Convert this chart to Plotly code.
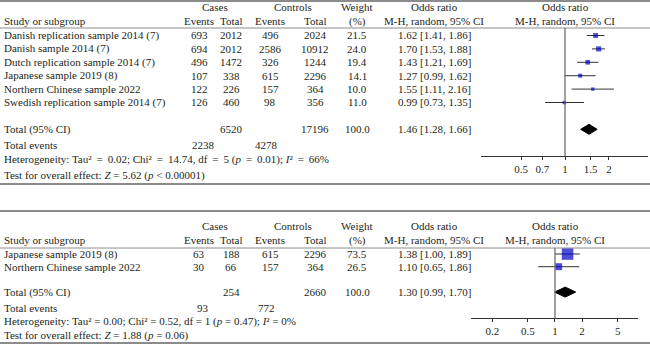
import plotly.graph_objects as go

W, H = 650, 344
FONT = "Liberation Serif"
TXT = "#231f20"

# ---------------- data: panel 1 ----------------
studies1 = ["Danish replication sample 2014 (7)", "Danish sample 2014 (7)",
            "Dutch replication sample 2014 (7)", "Japanese sample 2019 (8)",
            "Northern Chinese sample 2022", "Swedish replication sample 2014 (7)"]
case_events1 = [693, 694, 496, 107, 122, 126]
case_total1 = [2012, 2012, 1472, 338, 226, 460]
ctrl_events1 = [496, 2586, 326, 615, 157, 98]
ctrl_total1 = [2024, 10912, 1244, 2296, 364, 356]
weight1 = [21.5, 24.0, 19.4, 14.1, 10.0, 11.0]
or1 = [1.62, 1.70, 1.43, 1.27, 1.55, 0.99]
lo1 = [1.41, 1.53, 1.21, 0.99, 1.11, 0.73]
hi1 = [1.86, 1.88, 1.69, 1.62, 2.16, 1.35]
tot_case1, tot_ctrl1 = 6520, 17196
ev_case1, ev_ctrl1 = 2238, 4278
pooled1 = (1.46, 1.28, 1.66)
het1 = ("Heterogeneity: Tau² \u2009=\u2009 0.02; Chi² \u2009=\u2009 14.74, df \u2009=\u2009 5 "
        "(<i>p</i> \u2009=\u2009 0.01); <i>I</i>² \u2009=\u2009 66%")
eff1 = "Test for overall effect: <i>Z</i> = 5.62 (<i>p</i> < 0.00001)"
ticks1 = [0.5, 0.7, 1, 1.5, 2]

# ---------------- data: panel 2 ----------------
studies2 = ["Japanese sample 2019 (8)", "Northern Chinese sample 2022"]
case_events2 = [63, 30]
case_total2 = [188, 66]
ctrl_events2 = [615, 157]
ctrl_total2 = [2296, 364]
weight2 = [73.5, 26.5]
or2 = [1.38, 1.10]
lo2 = [1.00, 0.65]
hi2 = [1.89, 1.86]
tot_case2, tot_ctrl2 = 254, 2660
ev_case2, ev_ctrl2 = 93, 772
pooled2 = (1.30, 0.99, 1.70)
het2 = "Heterogeneity: Tau² = 0.00; Chi² = 0.52, df = 1 (<i>p</i> = 0.47); <i>I</i>² = 0%"
eff2 = "Test for overall effect: <i>Z</i> = 1.88 (<i>p</i> = 0.06)"
ticks2 = [0.2, 0.5, 1, 2, 5]

fig = go.Figure()
annotations = []
shapes = []


def px(x):
    return x / W


def py(y):
    return 1 - y / H


def text(x, y, s, anchor="center", size=11):
    annotations.append(dict(x=px(x), y=py(y), xref="paper", yref="paper", text=s,
                            showarrow=False, xanchor=anchor, yanchor="middle",
                            font=dict(family=FONT, size=size, color=TXT)))


def hline(y, width, color):
    shapes.append(dict(type="line", xref="paper", yref="paper", x0=0, x1=1,
                       y0=py(y), y1=py(y), line=dict(color=color, width=width)))


COLS = dict(ce=199, ct=231, ne=270, nt=315, w=357, orr=434)


def panel(p, top, hdr1, hdr2, hdr_line, row0, dy, total_row, ev_y, het_y, eff_y,
          bottom, axis_y, xdom, xrange_log, fx, studies, ce, ct, ne, nt, wt, orv, lo, hi,
          totc, totn, evc, evn, pooled, het, eff, ticks, sizek):
    xa = "x" if p == 1 else "x2"
    ya = "y" if p == 1 else "y2"
    hline(top, 2, "#8c8c8c")
    hline(hdr_line, 1, "#8c8c8c")
    hline(bottom, 2, "#8c8c8c")
    # header
    text(215, hdr1, "Cases")
    text(293, hdr1, "Controls")
    text(COLS["w"], hdr1, "Weight")
    text(COLS["orr"], hdr1, "Odds ratio")
    text(fx, hdr1, "Odds ratio")
    text(2, hdr2, "Study or subgroup", "left")
    text(COLS["ce"], hdr2, "Events")
    text(COLS["ct"], hdr2, "Total")
    text(COLS["ne"], hdr2, "Events")
    text(COLS["nt"], hdr2, "Total")
    text(COLS["w"], hdr2, "(%)")
    text(COLS["orr"], hdr2, "M-H, random, 95% CI")
    text(fx, hdr2, "M-H, random, 95% CI")
    for i, s in enumerate(studies):
        y = row0 + dy * i
        text(2, y, s, "left")
        text(COLS["ce"], y, str(ce[i]))
        text(COLS["ct"], y, str(ct[i]))
        text(COLS["ne"], y, str(ne[i]))
        text(COLS["nt"], y, str(nt[i]))
        text(COLS["w"], y, f"{wt[i]:.1f}")
        text(COLS["orr"], y, f"{orv[i]:.2f} [{lo[i]:.2f}, {hi[i]:.2f}]")
    ty = row0 + dy * total_row
    text(2, ty, "Total (95% CI)", "left")
    text(COLS["ct"], ty, str(totc))
    text(COLS["nt"], ty, str(totn))
    text(COLS["w"], ty, "100.0")
    text(COLS["orr"], ty, f"{pooled[0]:.2f} [{pooled[1]:.2f}, {pooled[2]:.2f}]")
    text(2, ev_y, "Total events", "left")
    text(203, ev_y, str(evc))
    text(266, ev_y, str(evn))
    text(2, het_y, het, "left")
    text(2, eff_y, eff, "left")

    rows = list(range(len(studies)))
    # CI lines
    xs, ys = [], []
    for i in rows:
        xs += [lo[i], hi[i], None]
        ys += [i, i, None]
    fig.add_trace(go.Scatter(x=xs, y=ys, mode="lines", xaxis=xa, yaxis=ya,
                             line=dict(color="#333333", width=1), hoverinfo="skip"))
    fig.add_trace(go.Scatter(x=orv, y=rows, mode="markers", xaxis=xa, yaxis=ya,
                             marker=dict(symbol="square", color="#0000c8",
                                         size=[sizek * w ** 0.5 for w in wt],
                                         line=dict(width=0))))
    h = 5.0 / dy
    fig.add_trace(go.Scatter(x=[pooled[1], pooled[0], pooled[2], pooled[0], pooled[1]],
                             y=[total_row, total_row - h, total_row, total_row + h, total_row],
                             mode="lines", fill="toself", fillcolor="black",
                             line=dict(color="black", width=1), xaxis=xa, yaxis=ya,
                             hoverinfo="skip"))
    # vertical reference line at OR = 1
    shapes.append(dict(type="line", xref=xa, yref="paper", x0=1, x1=1,
                       y0=py(hdr_line), y1=py(axis_y),
                       line=dict(color="#6e6e6e", width=1.3)))
    yr = [(H - row0) / dy, -row0 / dy]
    return dict(domain=xdom, range=xrange_log, yr=yr, pos=py(axis_y), ticks=ticks)


p1 = panel(1, 1, 7, 21, 28, 35.5, 13.4, 7, 145, 159.5, 175, 184, 156,
           [481 / W, 648 / W], [-0.575, 0.568], 565, studies1, case_events1, case_total1,
           ctrl_events1, ctrl_total1, weight1, or1, lo1, hi1, tot_case1, tot_ctrl1,
           ev_case1, ev_ctrl1, pooled1, het1, eff1, ticks1, 1.05)
p2 = panel(2, 211, 226, 240, 248, 254, 12.7, 3, 307.5, 321, 335.5, 343, 318,
           [471 / W, 638 / W], [-0.936, 0.925], 555, studies2, case_events2, case_total2,
           ctrl_events2, ctrl_total2, weight2, or2, lo2, hi2, tot_case2, tot_ctrl2,
           ev_case2, ev_ctrl2, pooled2, het2, eff2, ticks2, 1.35)


def xax(p, overlay=None):
    d = dict(type="log", domain=p["domain"], range=p["range"], anchor="free",
             position=p["pos"], showgrid=False, zeroline=False,
             tickvals=p["ticks"], ticktext=[f"{t:g}" for t in p["ticks"]],
             tickfont=dict(family=FONT, size=11, color=TXT), tickcolor="#333333",
             ticklen=3, tickwidth=1)
    if overlay is None:
        d.update(showline=True, linecolor="#333333", linewidth=1, ticks="outside")
    else:
        d.update(showline=False, ticks="inside", showticklabels=False, overlaying=overlay)
    return d


def yax(p, xa):
    return dict(domain=[0, 1], range=p["yr"], visible=False, anchor=xa,
                showgrid=False, zeroline=False)


fig.update_layout(
    width=W, height=H, margin=dict(l=0, r=0, t=0, b=0),
    paper_bgcolor="white", plot_bgcolor="rgba(0,0,0,0)", showlegend=False,
    xaxis=xax(p1), yaxis=yax(p1, "x"),
    xaxis2=xax(p2), yaxis2=yax(p2, "x2"),
    xaxis3=xax(p1, "x"), xaxis4=xax(p2, "x2"),
    annotations=annotations, shapes=shapes,
)

fig.write_html("out.html")
